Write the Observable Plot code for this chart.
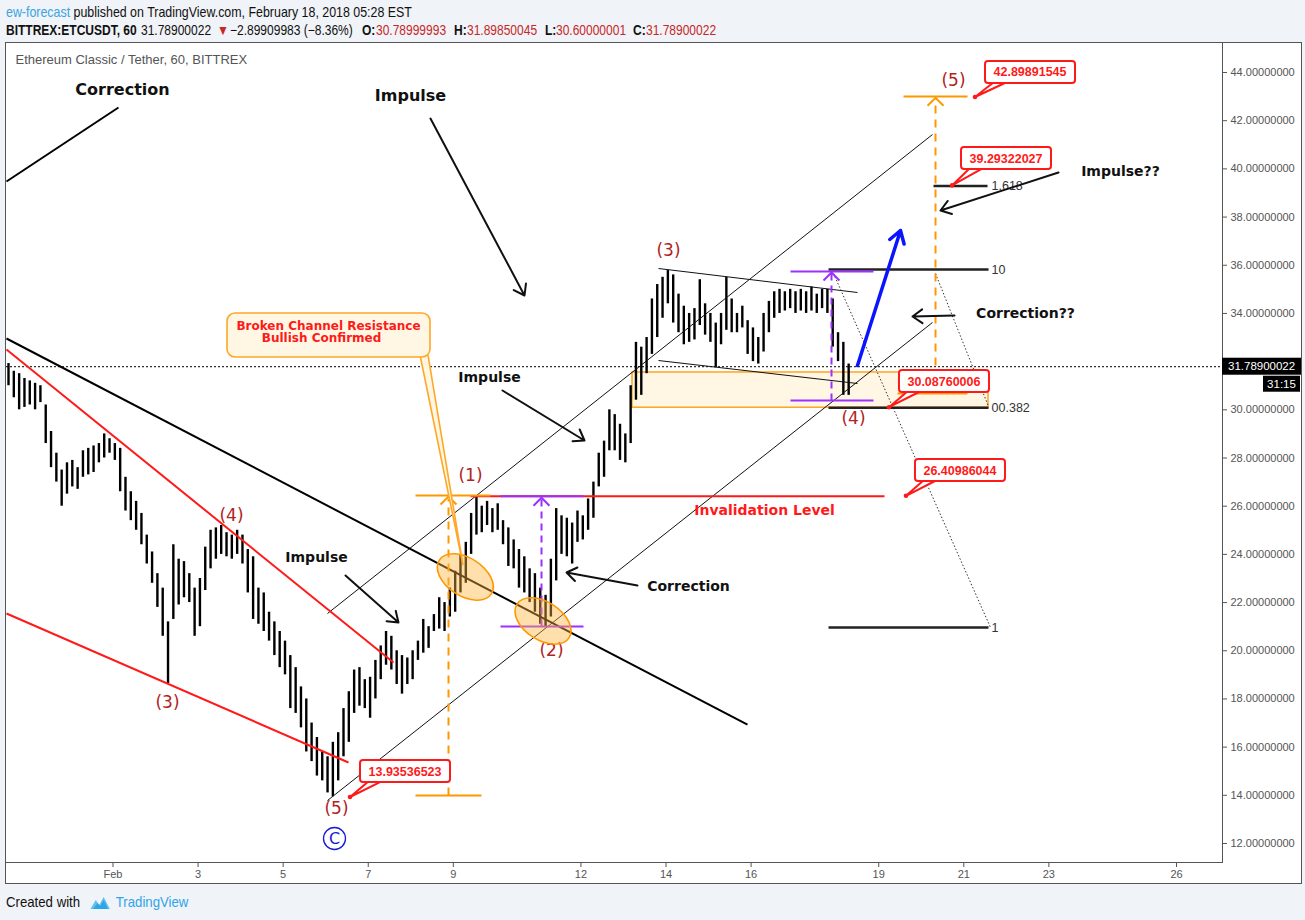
<!DOCTYPE html>
<html><head><meta charset="utf-8">
<script src="https://cdn.jsdelivr.net/npm/d3@7"></script>
<script src="https://cdn.jsdelivr.net/npm/@observablehq/plot@0.6"></script>
<style>
html,body{margin:0;padding:0;background:#f0f3f7;width:1305px;height:920px;overflow:hidden;}
.hdr{position:absolute;white-space:nowrap;font-family:"Liberation Sans",sans-serif;color:#111;transform-origin:0 50%;}
#h1{left:6px;top:3px;font-size:15px;transform:scaleX(0.827);}
.l2{top:22px;font-size:14px;transform:scaleX(0.857);}
.blue{color:#3aa3e3;}
.red{color:#c62828;}
#panel{position:absolute;left:5px;top:42px;width:1297px;height:842px;}
#foot{position:absolute;left:6px;top:893px;font-family:"Liberation Sans",sans-serif;font-size:15px;color:#111;display:flex;align-items:center;transform:scaleX(0.88);transform-origin:0 50%;}
#foot .tv{color:#2fa4e7;}
</style></head>
<body>
<div class="hdr" id="h1"><span class="blue">ew-forecast</span> published on TradingView.com, February 18, 2018 05:28 EST</div>
<div class="hdr l2" style="left:6px"><b>BITTREX:ETCUSDT, 60</b></div>
<div class="hdr l2" style="left:141px">31.78900022</div>
<div class="hdr l2 red" style="left:217px">▼</div>
<div class="hdr l2" style="left:230px">−2.89909983 (−8.36%)</div>
<div class="hdr l2" style="left:362px"><b>O:</b></div>
<div class="hdr l2 red" style="left:376px">30.78999993</div>
<div class="hdr l2" style="left:454px"><b>H:</b></div>
<div class="hdr l2 red" style="left:467px">31.89850045</div>
<div class="hdr l2" style="left:545px"><b>L:</b></div>
<div class="hdr l2 red" style="left:556px">30.60000001</div>
<div class="hdr l2" style="left:633px"><b>C:</b></div>
<div class="hdr l2 red" style="left:646px">31.78900022</div>
<div id="panel"></div>
<div id="foot">Created with&nbsp;&nbsp;<svg width="28" height="16" viewBox="0 0 24 16"><path d="M1 15 L7 6 L11 11 L16 3 L23 15 Z" fill="#5fc1ee"/><path d="M4 15 L9 9 L12 12 L16 6 L21 15 Z" fill="#2fa4e7"/></svg>&nbsp;<span class="tv">TradingView</span></div>
<script>
// ---------------- data ----------------
const barStart = -1.4565;   // time of first bar (day of Feb)
const barStep = 0.125;      // 3-hour bars
const barHigh = [31.92,31.6,31.5,31.3,31.2,31.1,31.0,30.2,29.1,28.2,
27.5,27.8,27.9,27.6,28.3,28.4,28.5,28.6,29.0,28.8,
28.6,28.4,27.2,26.6,26.2,25.7,24.8,24.1,23.2,22.6,
21.2,24.4,23.8,23.7,23.2,22.6,23.0,24.3,25.0,25.1,
25.2,24.9,24.8,25.0,24.8,24.2,23.9,22.6,22.4,21.6,
21.2,20.8,20.4,19.8,19.3,18.5,18.0,17.0,16.4,15.8,
15.6,16.2,16.6,17.6,18.3,19.2,19.3,18.8,18.9,19.6,
20.2,20.8,20.6,20.0,19.8,19.7,20.0,20.4,21.3,21.0,
21.5,22.2,22.0,22.6,23.3,24.0,24.5,25.7,26.36,26.0,
26.2,25.9,26.1,25.4,25.1,24.6,24.2,23.9,23.4,23.2,
22.6,22.3,23.8,25.9,25.6,25.5,25.3,25.8,25.6,26.3,
27.0,28.2,28.7,30.0,29.8,29.4,29.0,31.0,32.8,32.6,
33.0,34.6,35.2,35.5,35.78,35.6,34.8,34.3,34.0,34.2,
35.4,34.4,34.0,33.6,34.0,35.5,34.6,34.0,34.3,33.7,
33.4,33.0,34.0,34.5,34.9,35.0,34.9,35.0,34.9,35.0,
34.9,35.1,34.8,35.0,35.0,34.6,33.2,32.8,31.9];
const barLow = [31.0,30.5,30.0,30.1,30.2,30.0,30.3,28.6,27.6,27.0,
26.0,26.5,26.8,26.7,27.2,27.3,27.4,27.8,28.0,28.2,
27.9,26.6,25.8,25.4,25.0,24.4,23.6,22.8,21.8,20.6,
18.64,21.3,21.9,22.2,22.0,20.6,21.0,22.5,23.4,23.8,
24.0,23.9,23.8,24.0,23.6,22.4,21.3,21.1,20.8,20.4,
19.8,19.3,19.0,17.6,17.4,16.8,15.8,15.4,14.8,14.6,
14.1,13.94,14.6,15.6,16.2,17.4,17.7,17.6,17.2,18.0,
18.8,19.4,19.2,18.6,18.2,18.6,18.8,19.6,19.9,20.1,
20.8,20.9,20.8,21.4,21.6,22.4,22.8,24.0,24.8,24.9,
25.2,24.9,25.0,24.4,23.5,23.4,22.6,22.4,22.0,21.6,
21.1,20.97,21.4,22.9,24.0,23.9,23.6,24.5,24.6,25.0,
25.5,26.8,27.2,28.3,28.3,27.9,27.8,28.6,30.4,30.6,
31.5,32.3,33.0,33.8,34.4,33.6,33.2,32.7,32.8,32.9,
33.5,33.1,32.8,31.76,32.7,33.3,33.2,33.2,33.4,32.3,
32.0,31.9,32.4,33.2,33.8,34.0,34.1,34.2,34.0,34.1,
34.0,34.1,34.0,34.2,34.0,32.6,32.0,30.6,30.6];
const priceTicks = [12,14,16,18,20,22,24,26,28,30,32,34,36,38,40,42,44];
const dayTicks = [1,3,5,7,9,12,14,16,19,21,23,26];
const dayTickLabels = ["Feb","3","5","7","9","12","14","16","19","21","23","26"];
const lastPrice = 31.78900022;
const lastPriceLabel = "31.78900022";
const countdownLabel = "31:15";
const chartTitle = "Ethereum Classic / Tether, 60, BITTREX";

// drawings, in (day, price) coordinates: [x1, y1, x2, y2]
const blackTrendLines = [[-1.504,39.476,1.129,42.547],[-1.504,32.96,15.915,16.939]];
const redTrendLines = [[-1.504,32.503,7.594,19.512],[-1.504,21.546,6.536,15.362]];
const thinLines = [[6.042,21.546,20.264,41.426],[6.042,13.785,20.264,33.624],[13.823,35.865,18.501,34.869],[13.823,32.046,18.501,31.092]];
const zone = [{x1:13.212,x2:21.581,y1:30.0876,y2:31.55}];
const fibLines = [[20.288,21.558,39.29322027],[17.82,21.581,35.823],[17.82,21.581,30.08760006],[17.82,21.581,20.965]];
const fibLabelX = 21.581;
const fibLabelsA = [{y:39.29322027,t:"1.618"},{y:35.823,t:"1"},{y:30.08760006,t:"0"},{y:20.965,t:"1"}];
const fibLabelsB = [{y:35.823,t:"0"},{y:30.08760006,t:"0.382"}];
const fibDotted = [[17.937,35.657,21.628,20.965],[20.335,35.657,21.581,30.137]];
const orangeLines = [[8.111,26.443,9.874,26.443],[8.111,13.992,9.662,13.992],[19.583,43.0,21.087,43.0],[19.441,30.677,21.087,30.677]];
const orangeDashed = [[8.887,13.992,8.887,26.3],[20.335,30.677,20.335,42.9]];
const orangeTips = [[8.887,26.40],[20.335,42.95]];
const purpleLines = [[10.109,26.41,12.06,26.41],[10.109,21.006,12.06,21.006],[16.926,35.74,18.877,35.74],[16.926,30.386,18.877,30.386]];
const purpleDashed = [[11.073,21.006,11.073,26.3],[17.89,30.386,17.89,35.65]];
const purpleTips = [[11.073,26.35],[17.89,35.70]];
const invalidationLine = [[9.404,26.40986044,19.136,26.40986044]];
const blackArrows = [[8.463,42.09,10.673,34.744],[10.156,30.801,12.084,28.726],[6.465,23.123,7.711,21.172],[13.33,22.708,11.661,23.248],[23.226,39.849,20.452,38.272],[20.781,33.914,19.794,33.873]];
const blueArrows = [[18.501,31.839,19.512,37.442]];
const bigNotes = [{x:1.223,y:43.294,t:"Correction"},{x:7.993,y:43.045,t:"Impulse"}];
const notes = [{x:9.851,y:31.341,t:"Impulse"},{x:5.784,y:23.87,t:"Impulse"},{x:14.528,y:22.667,t:"Correction"},{x:24.683,y:39.891,t:"Impulse??"},{x:22.451,y:33.997,t:"Correction??"}];
const redNotes = [{x:16.315,y:25.821,t:"Invalidation Level"}];
const waveLabels = [{x:2.281,y:17.852,t:"(3)"},{x:3.786,y:25.613,t:"(4)"},{x:6.254,y:13.453,t:"(5)"},{x:9.404,y:27.274,t:"(1)"},{x:11.308,y:20.01,t:"(2)"},{x:14.058,y:36.612,t:"(3)"},{x:18.407,y:29.639,t:"(4)"},{x:20.758,y:43.668,t:"(5)"}];
const circledWave = [{x:6.207,y:12.208,t:"C"}];
const ellipses = [[9.294,23.04],[11.12,21.214]];
const priceCallouts = [
  {t:"13.93536523", px:6.583, py:13.909, bx:7.876, by:14.988},
  {t:"30.08760006", px:19.253, py:30.0876, bx:20.546, by:31.175},
  {t:"26.40986044", px:19.653, py:26.41, bx:20.922, by:27.481},
  {t:"39.29322027", px:20.735, py:39.293, bx:22.004, by:40.43},
  {t:"42.89891545", px:21.275, py:42.962, bx:22.568, by:44.0}
];
const channelCallout = {lines:["Broken Channel Resistance","Bullish Confirmed"], x:6.078, y:33.084, tipX:9.239, tipY:23.538};

// ---------------- chart ----------------
const candles = barHigh.map((h,i) => ({t: barStart + i*barStep, high: h, low: barLow[i]}));
// the axis label hidden behind the last-price marker is not drawn
const shownTicks = priceTicks.filter(v => Math.abs(v - lastPrice) > 0.4);
const L = {x1: d=>d[0], y1: d=>d[1], x2: d=>d[2], y2: d=>d[3]};
const chevron = {draw(ctx, size){ const s = Math.sqrt(size); ctx.moveTo(-s, s); ctx.lineTo(0, 0); ctx.lineTo(s, s); }};
const W = 1297, H = 842;
const chart = Plot.plot({
  width: W, height: H,
  marginLeft: 1, marginTop: 1, marginRight: 80, marginBottom: 22,
  style: {background:"white", color:"#555", fontFamily:"Liberation Sans, sans-serif", fontSize:"11px", overflow:"visible"},
  x: {domain:[-1.5035, 27.0813], ticks: dayTicks, tickFormat: d => dayTickLabels[dayTicks.indexOf(d)], tickSize:5, tickPadding:3, line:true, label:null},
  y: {domain:[11.212, 45.2036], axis:"right", ticks: shownTicks, tickFormat: d => d.toFixed(8), tickSize:4, tickPadding:4, line:true, label:null},
  marks: [
    Plot.rect(zone, {x1:"x1", x2:"x2", y1:"y1", y2:"y2", fill:"#fff7e3", stroke:"#ff9800", strokeWidth:1.3}),
    Plot.ruleY([lastPrice], {stroke:"#000", strokeDasharray:"2,2", strokeWidth:1}),
    Plot.ruleX(candles, {x:"t", y1:"low", y2:"high", stroke:"#000", strokeWidth:2.4}),
    Plot.link(thinLines, {...L, stroke:"#111", strokeWidth:1}),
    Plot.link(blackTrendLines, {...L, stroke:"#000", strokeWidth:2}),
    Plot.link(redTrendLines, {...L, stroke:"#ff1a1a", strokeWidth:2}),
    Plot.link(fibDotted, {...L, stroke:"#333", strokeDasharray:"1.5,2", strokeWidth:1}),
    Plot.link(fibLines, {x1:d=>d[0], x2:d=>d[1], y1:d=>d[2], y2:d=>d[2], stroke:"#222", strokeWidth:2.5}),
    Plot.text(fibLabelsA, {x:fibLabelX, y:"y", text:"t", dx:3, textAnchor:"start", fill:"#333", fontSize:12.5, fontFamily:"Liberation Sans"}),
    Plot.text(fibLabelsB, {x:fibLabelX, y:"y", text:"t", dx:10, textAnchor:"start", fill:"#333", fontSize:12.5, fontFamily:"Liberation Sans"}),
    Plot.link(invalidationLine, {...L, stroke:"#ff1a1a", strokeWidth:2}),
    Plot.link(orangeLines, {...L, stroke:"#ff9800", strokeWidth:2}),
    Plot.link(orangeDashed, {...L, stroke:"#ff9800", strokeWidth:2, strokeDasharray:"8,6"}),
    Plot.dot(orangeTips, {x:d=>d[0], y:d=>d[1], symbol:chevron, r:4.5, fill:"none", stroke:"#ff9800", strokeWidth:2}),
    Plot.link(purpleLines, {...L, stroke:"#9b30ff", strokeWidth:2}),
    Plot.link(purpleDashed, {...L, stroke:"#9b30ff", strokeWidth:2, strokeDasharray:"7,5"}),
    Plot.dot(purpleTips, {x:d=>d[0], y:d=>d[1], symbol:chevron, r:4.5, fill:"none", stroke:"#9b30ff", strokeWidth:2}),
    Plot.arrow(blackArrows, {...L, stroke:"#111", strokeWidth:2, headLength:9, headAngle:70}),
    Plot.arrow(blueArrows, {...L, stroke:"#0a14ff", strokeWidth:3.5, headLength:6, headAngle:65}),
    Plot.text(bigNotes, {x:"x", y:"y", text:"t", fill:"#111", fontWeight:"bold", fontSize:16, fontFamily:"DejaVu Sans"}),
    Plot.text(notes, {x:"x", y:"y", text:"t", fill:"#111", fontWeight:"bold", fontSize:14, fontFamily:"DejaVu Sans"}),
    Plot.text(redNotes, {x:"x", y:"y", text:"t", fill:"#ff1a1a", fontWeight:"bold", fontSize:14, fontFamily:"DejaVu Sans"}),
    Plot.text(waveLabels, {x:"x", y:"y", text:"t", fill:"#b22222", fontSize:17, fontFamily:"DejaVu Sans"}),
    Plot.dot(circledWave, {x:"x", y:"y", r:11, fill:"none", stroke:"#1a1ad6", strokeWidth:1.3}),
    Plot.text(circledWave, {x:"x", y:"y", text:"t", fill:"#1a1ad6", fontSize:16, fontFamily:"DejaVu Sans"}),
    Plot.text([chartTitle], {frameAnchor:"top-left", dx:9, dy:11, fill:"#555", fontSize:13, fontFamily:"Liberation Sans", textAnchor:"start"})
  ]
});
document.getElementById("panel").appendChild(chart);

// overlay shapes positioned through the plot's own scales
const xs = chart.scale("x"), ys = chart.scale("y");
const sx = d3.scaleLinear(xs.domain, xs.range);
const sy = d3.scaleLinear(ys.domain, ys.range);
const svg = d3.select(chart);
const plotRight = W - 80;

// panel border
svg.append("rect").attr("x",0.5).attr("y",0.5).attr("width",W-1).attr("height",H-1)
  .attr("fill","none").attr("stroke","#555");

// ellipses
for (const [ex, ey] of ellipses) {
  svg.append("ellipse").attr("cx",0).attr("cy",0).attr("rx",31).attr("ry",19)
    .attr("transform",`translate(${sx(ex)},${sy(ey)}) rotate(33)`)
    .attr("fill","rgba(255,180,60,0.42)").attr("stroke","#ff9800").attr("stroke-width",1.6);
}

// channel callout
{
  const cx = sx(channelCallout.x), cy = sy(channelCallout.y);
  const bw = 203, bh = 44, left = cx - bw/2, top = cy - bh/2, bottom = top + bh;
  const g = svg.append("g");
  g.append("path").attr("d",`M${left+bw-10},${bottom-2} L${sx(channelCallout.tipX)},${sy(channelCallout.tipY)} L${left+bw-2},${bottom-2}`)
    .attr("fill","#fff7e3").attr("stroke","#ffa726").attr("stroke-width",1.6);
  g.append("rect").attr("x",left).attr("y",top).attr("width",bw).attr("height",bh).attr("rx",8)
    .attr("fill","#fff7e3").attr("stroke","#ffa726").attr("stroke-width",1.6);
  channelCallout.lines.forEach((ln,i) => {
    g.append("text").attr("x",cx - (i ? 7 : 0)).attr("y",top + 17 + i*12).attr("text-anchor","middle")
      .attr("font-family","DejaVu Sans").attr("font-weight","bold").attr("font-size",12).attr("fill","#ff1a1a").text(ln);
  });
}

// value callouts
for (const c of priceCallouts) {
  const cx = sx(c.bx), cy = sy(c.by), bw = 90, bh = 22;
  const left = cx - bw/2, top = cy - bh/2, bottom = top + bh;
  const px = sx(c.px), py = sy(c.py);
  const g = svg.append("g");
  g.append("path").attr("d",`M${left+9},${bottom-1} L${px},${py} L${left+22},${bottom-1}`)
    .attr("fill","white").attr("stroke","#ff1a1a").attr("stroke-width",2).attr("stroke-linejoin","round");
  g.append("rect").attr("x",left).attr("y",top).attr("width",bw).attr("height",bh).attr("rx",3)
    .attr("fill","white").attr("stroke","#ff1a1a").attr("stroke-width",2);
  g.append("text").attr("x",cx).attr("y",cy+4.5).attr("text-anchor","middle")
    .attr("font-family","Liberation Sans").attr("font-weight","bold").attr("font-size",12.5).attr("fill","#ff1a1a").text(c.t);
  g.append("circle").attr("cx",px).attr("cy",py).attr("r",2.3).attr("fill","#ff1a1a");
}

// last price marker on the axis
{
  const y = sy(lastPrice);
  svg.append("rect").attr("x",plotRight).attr("y",y-8.5).attr("width",79).attr("height",17).attr("fill","#000");
  svg.append("text").attr("x",plotRight+6).attr("y",y+4).attr("text-anchor","start").attr("font-family","Liberation Sans").attr("font-size",11.5)
    .attr("fill","#fff").text(lastPriceLabel);
  svg.append("rect").attr("x",plotRight+41).attr("y",y+9.5).attr("width",37).attr("height",16).attr("fill","#000");
  svg.append("text").attr("x",plotRight+59.5).attr("y",y+21.5).attr("text-anchor","middle").attr("font-family","Liberation Sans").attr("font-size",11.5)
    .attr("fill","#fff").text(countdownLabel);
}
</script>
</body></html>
